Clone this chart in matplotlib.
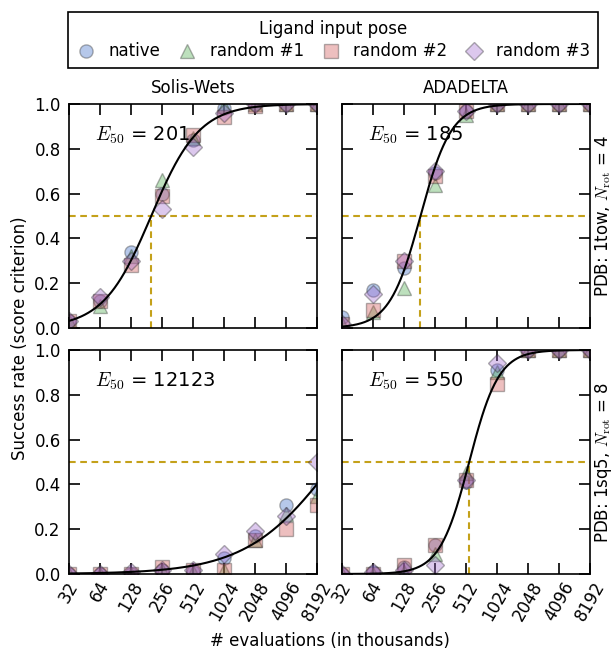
import numpy as np
import matplotlib
matplotlib.use("Agg")
import matplotlib.pyplot as plt
from matplotlib.lines import Line2D

plt.rcParams['font.family'] = ['DejaVu Sans']
plt.rcParams['mathtext.fontset'] = 'cm'
plt.rcParams['font.size'] = 12

evals = [32, 64, 128, 256, 512, 1024, 2048, 4096, 8192]
pose_labels = ["native", "random #1", "random #2", "random #3"]
pose_markers = ["o", "^", "s", "D"]
pose_colors = ["#2f62c4", "#43a843", "#cd4a4a", "#9b62cd"]
methods = ["Solis-Wets", "ADADELTA"]
systems = ["PDB: 1tow, $N_\\mathrm{rot}$ = 4", "PDB: 1sq5, $N_\\mathrm{rot}$ = 8"]

# success rates [system][method][pose]
sw_1tow_native = [0.03, 0.12, 0.34, 0.60, 0.84, 0.98, 1.00, 1.00, 1.00]
sw_1tow_r1 = [0.03, 0.10, 0.32, 0.66, 0.85, 0.99, 1.00, 1.00, 1.00]
sw_1tow_r2 = [0.03, 0.12, 0.28, 0.59, 0.86, 0.94, 0.99, 1.00, 1.00]
sw_1tow_r3 = [0.03, 0.14, 0.30, 0.53, 0.81, 0.96, 1.00, 1.00, 1.00]

ad_1tow_native = [0.05, 0.17, 0.27, 0.69, 0.97, 1.00, 1.00, 1.00, 1.00]
ad_1tow_r1 = [0.02, 0.07, 0.18, 0.64, 0.95, 1.00, 1.00, 1.00, 1.00]
ad_1tow_r2 = [0.02, 0.08, 0.30, 0.68, 0.97, 1.00, 1.00, 1.00, 1.00]
ad_1tow_r3 = [0.02, 0.15, 0.30, 0.70, 0.97, 1.00, 1.00, 1.00, 1.00]

sw_1sq5_native = [0.00, 0.00, 0.00, 0.02, 0.01, 0.07, 0.17, 0.31, 0.38]
sw_1sq5_r1 = [0.00, 0.00, 0.00, 0.02, 0.01, 0.02, 0.15, 0.27, 0.35]
sw_1sq5_r2 = [0.00, 0.00, 0.00, 0.03, 0.02, 0.02, 0.15, 0.20, 0.31]
sw_1sq5_r3 = [0.00, 0.00, 0.01, 0.02, 0.02, 0.09, 0.19, 0.26, 0.50]

ad_1sq5_native = [0.00, 0.01, 0.03, 0.13, 0.41, 0.91, 1.00, 1.00, 1.00]
ad_1sq5_r1 = [0.00, 0.00, 0.01, 0.09, 0.45, 0.90, 1.00, 1.00, 1.00]
ad_1sq5_r2 = [0.00, 0.00, 0.04, 0.13, 0.42, 0.85, 1.00, 1.00, 1.00]
ad_1sq5_r3 = [0.00, 0.01, 0.02, 0.04, 0.42, 0.94, 1.00, 1.00, 1.00]

data = [
    [[sw_1tow_native, sw_1tow_r1, sw_1tow_r2, sw_1tow_r3],
     [ad_1tow_native, ad_1tow_r1, ad_1tow_r2, ad_1tow_r3]],
    [[sw_1sq5_native, sw_1sq5_r1, sw_1sq5_r2, sw_1sq5_r3],
     [ad_1sq5_native, ad_1sq5_r1, ad_1sq5_r2, ad_1sq5_r3]],
]

# fitted logistic parameters: E50 and slope per doubling
e50 = [[201, 185], [12123, 550]]
slope = [[1.29, 2.0], [0.71, 2.1]]

gold = "#c4a11a"
W, H = 613, 651
fig = plt.figure(figsize=(W / 100, H / 100), dpi=100)

ax_left = [69, 342]
ax_w = 248
ax_top = [104, 350]
ax_h = 224


def marker_kw(p):
    return dict(ls='none', marker=pose_markers[p], ms=9.5 if pose_markers[p] != 'D' else 9,
                mfc=pose_colors[p], mec='#222222', mew=1.0, alpha=0.35)


for r in range(2):
    for c in range(2):
        ax = fig.add_axes([ax_left[c] / W, 1 - (ax_top[r] + ax_h) / H, ax_w / W, ax_h / H])
        ax.set_xscale('log', base=2)
        ax.set_xlim(evals[0], evals[-1])
        ax.set_ylim(0, 1)
        ax.axhline(0.5, color=gold, lw=1.5, ls=(0, (3.2, 2.2)), zorder=1)
        ax.plot([e50[r][c], e50[r][c]], [0, 0.5], color=gold, lw=1.5, ls=(0, (3.2, 2.2)), zorder=1)
        xs = np.logspace(np.log2(evals[0]), np.log2(evals[-1]), 300, base=2)
        ys = 1 / (1 + np.exp(-slope[r][c] * (np.log2(xs) - np.log2(e50[r][c]))))
        ax.plot(xs, ys, color='black', lw=1.5, zorder=3)
        for p in range(4):
            ax.plot(evals, data[r][c][p], zorder=2, **marker_kw(p))
        ax.text(0.105, 0.86, "$E_{50}$ = %d" % e50[r][c], transform=ax.transAxes,
                fontsize=14, ha='left', va='center')
        ax.set_xticks(evals)
        ax.tick_params(which='major', direction='in', length=8, width=1.2,
                       top=True, right=True, labelsize=12)
        ax.tick_params(axis='y', pad=6)
        ax.tick_params(axis='x', pad=3)
        ax.tick_params(which='minor', bottom=False, top=False)
        ax.set_yticks([0, 0.2, 0.4, 0.6, 0.8, 1.0])
        ax.set_yticklabels(["0.0", "0.2", "0.4", "0.6", "0.8", "1.0"])
        if r == 1:
            ax.set_xticklabels([str(e) for e in evals], rotation=60, ha='center')
        else:
            ax.set_xticklabels([])
        if c == 1:
            ax.set_yticklabels([])
        if r == 0:
            ax.set_title(methods[c], fontsize=12, pad=8)
        for s in ax.spines.values():
            s.set_linewidth(1.2)

for r in range(2):
    fig.text(603 / W, 1 - (ax_top[r] + ax_h / 2) / H, systems[r], rotation=90,
             ha='center', va='center', fontsize=12)

fig.text(20 / W, 1 - 338 / H, "Success rate (score criterion)", rotation=90,
         ha='center', va='center', fontsize=12)
fig.text(330 / W, 1 - 641 / H, "# evaluations (in thousands)", ha='center', va='center', fontsize=12)

handles = [Line2D([], [], **marker_kw(p)) for p in range(4)]
leg = fig.legend(handles, pose_labels, loc='upper left',
                 bbox_to_anchor=(68 / W, 1 - 12 / H, (598 - 68) / W, 0.0), mode='expand',
                 ncol=4, title="Ligand input pose", fontsize=12, title_fontsize=12,
                 fancybox=False, edgecolor='black', framealpha=1, handletextpad=0.7,
                 handlelength=1.3, borderaxespad=0, columnspacing=1.0, borderpad=0.45,
                 labelspacing=0.3)
leg.get_frame().set_linewidth(1.2)

fig.savefig("out.png", dpi=100)
